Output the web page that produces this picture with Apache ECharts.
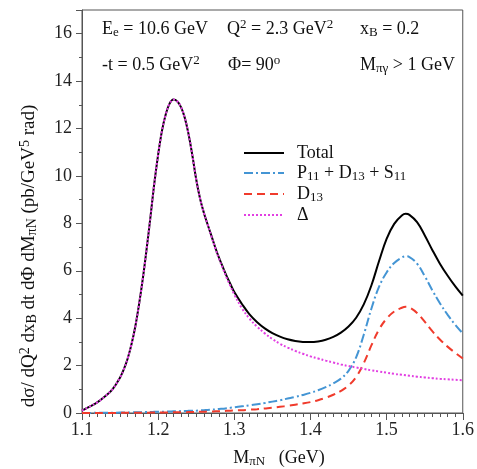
<!DOCTYPE html>
<html>
<head>
<meta charset="utf-8">
<script src="https://cdn.jsdelivr.net/npm/echarts@6/dist/echarts.min.js"></script>
<style>html,body{margin:0;padding:0;background:#fff}#c{width:477px;height:469px}</style>
</head>
<body>
<div id="c"></div>
<script>
const mass = [1.10,1.11,1.12,1.13,1.14,1.15,
  1.155,1.16,1.165,1.17,1.175,1.18,1.185,1.19,1.195,1.20,1.205,1.21,1.215,1.22,1.225,1.23,1.235,1.24,1.245,1.25,1.255,1.26,1.265,1.27,1.275,1.28,1.285,1.29,1.295,1.30,
  1.31,1.32,1.33,1.34,1.35,1.36,1.37,1.38,1.39,1.40,1.41,1.42,1.43,1.44,1.45,1.46,1.47,1.48,1.49,1.50,1.51,1.52,1.525,1.53,1.54,1.55,1.56,1.57,1.58,1.59,1.60];
const delta = [0.10,0.27,0.45,0.70,1.00,1.50,
  1.85,2.30,2.90,3.65,4.60,5.70,6.95,8.30,9.70,10.90,11.90,12.60,13.05,13.22,13.15,12.90,12.45,11.75,10.85,9.85,9.05,8.45,7.95,7.45,6.95,6.50,6.10,5.70,5.35,5.00,
  4.42,3.98,3.64,3.36,3.12,2.92,2.76,2.62,2.50,2.39,2.30,2.21,2.13,2.05,1.98,1.92,1.86,1.80,1.75,1.70,1.65,1.61,1.59,1.57,1.53,1.50,1.47,1.44,1.42,1.40,1.38];
const total = [0.10,0.27,0.45,0.70,1.00,1.50,
  1.85,2.30,2.90,3.65,4.60,5.70,6.95,8.30,9.70,10.90,11.90,12.60,13.05,13.22,13.15,12.90,12.45,11.75,10.85,9.85,9.05,8.45,7.95,7.47,6.98,6.54,6.15,5.77,5.43,5.10,
  4.60,4.16,3.83,3.57,3.37,3.22,3.11,3.04,3.00,2.99,3.02,3.09,3.21,3.39,3.65,4.02,4.58,5.38,6.40,7.35,7.98,8.33,8.40,8.36,8.05,7.50,6.88,6.30,5.80,5.35,4.95];
const p11d13s11 = [0.00,0.00,0.01,0.01,0.01,0.02,
  0.02,0.02,0.03,0.03,0.03,0.04,0.04,0.04,0.05,0.05,0.05,0.06,0.06,0.07,0.07,0.08,0.08,0.09,0.10,0.10,0.11,0.12,0.13,0.14,0.15,0.17,0.18,0.20,0.22,0.24,
  0.28,0.32,0.37,0.42,0.48,0.54,0.61,0.68,0.76,0.85,0.96,1.09,1.25,1.45,1.78,2.35,3.30,4.40,5.32,5.93,6.33,6.56,6.61,6.58,6.30,5.78,5.18,4.63,4.15,3.73,3.36];
const d13 = [0.00,0.00,0.00,0.00,0.00,0.01,
  0.01,0.01,0.01,0.01,0.01,0.01,0.01,0.02,0.02,0.02,0.02,0.02,0.02,0.03,0.03,0.03,0.03,0.04,0.04,0.04,0.05,0.05,0.06,0.06,0.07,0.07,0.08,0.09,0.10,0.11,
  0.12,0.14,0.16,0.19,0.22,0.26,0.30,0.35,0.40,0.46,0.54,0.64,0.77,0.93,1.16,1.52,2.10,2.85,3.52,3.98,4.28,4.44,4.48,4.45,4.22,3.85,3.45,3.10,2.80,2.54,2.30];
const xTicks = [1.1,1.2,1.3,1.4,1.5,1.6];
const yTicks = [0,2,4,6,8,10,12,14,16];

const pairs = arr => mass.map((m,i)=>[m,arr[i]]);
const serif = '"Liberation Serif","DejaVu Serif",serif';
function richFor(size){
  const s = Math.round(size*0.72);
  return {
    sub:{fontFamily:serif,fontSize:s,padding:[7,0,0,0],verticalAlign:'middle',fill:'#111',color:'#111'},
    sup:{fontFamily:serif,fontSize:s,padding:[0,0,8,0],verticalAlign:'middle',fill:'#111',color:'#111'},
    n:{fontFamily:serif,fontSize:size,verticalAlign:'middle',fill:'#111',color:'#111'}
  };
}
const richSS = richFor(18);
const legendNames = {
  'Total':'{n|Total}',
  'P11 + D13 + S11':'{n|P}{sub|11}{n| + D}{sub|13}{n| + S}{sub|11}',
  'D13':'{n|D}{sub|13}',
  'Δ':'{n|Δ}'
};
function txt(x,y,t,align){
  return {type:'text',x:x,y:y,style:{text:t,rich:richSS,fill:'#111',font:'18px '+serif,verticalAlign:'middle',align:align||'left'}};
}
const chart = echarts.init(document.getElementById('c'));
chart.setOption({
  animation:false,
  backgroundColor:'#fff',
  grid:{left:82,right:10,top:10,bottom:56,show:true,borderColor:'#555',borderWidth:1,backgroundColor:'transparent'},
  xAxis:{type:'value',min:1.1,max:1.6,interval:0.1,
    axisLine:{lineStyle:{color:'#555',width:1}},
    axisTick:{show:true,length:7,lineStyle:{color:'#555'}},
    minorTick:{show:true,splitNumber:10,length:4,lineStyle:{color:'#555'}},
    splitLine:{show:false},
    axisLabel:{fontFamily:serif,fontSize:18,color:'#222',margin:8,formatter:v=>{const t=xTicks.find(k=>Math.abs(k-v)<1e-6);return t===undefined?'':t.toFixed(1);}}
  },
  yAxis:{type:'value',min:0,max:17,interval:2,
    axisLine:{show:true,lineStyle:{color:'#555',width:1}},
    axisTick:{show:true,length:6,lineStyle:{color:'#555'}},
    minorTick:{show:true,splitNumber:2,length:3,lineStyle:{color:'#555'}},
    splitLine:{show:false},
    axisLabel:{fontFamily:serif,fontSize:18,color:'#222',margin:10,formatter:v=>yTicks.indexOf(Math.round(v))>=0&&Math.abs(v-Math.round(v))<1e-6?String(Math.round(v)):''}
  },
  legend:{orient:'vertical',left:243,top:144,padding:0,itemWidth:40,itemHeight:14,itemGap:2,
    data:['Total','P11 + D13 + S11','D13','Δ'],
    formatter:n=>legendNames[n],
    itemStyle:{opacity:0},
    textStyle:{fontFamily:serif,fontSize:18,color:'#111',rich:richSS,padding:[0,0,0,8]}
  },
  series:[
    {name:'Total',type:'line',data:pairs(total),showSymbol:false,symbol:'none',smooth:0.4,lineStyle:{color:'#000',width:2},itemStyle:{color:'#000'},z:2},
    {name:'P11 + D13 + S11',type:'line',data:pairs(p11d13s11),showSymbol:false,symbol:'none',smooth:0.4,lineStyle:{color:'#4495d4',width:2,type:[9,3,2,3]},itemStyle:{color:'#4495d4'},z:3},
    {name:'D13',type:'line',data:pairs(d13),showSymbol:false,symbol:'none',smooth:0.4,lineStyle:{color:'#f03b2c',width:2,type:[8,5]},itemStyle:{color:'#f03b2c'},z:4},
    {name:'Δ',type:'line',data:pairs(delta),showSymbol:false,symbol:'none',smooth:0.4,lineStyle:{color:'#e23fe2',width:2,type:[2,2]},itemStyle:{color:'#e23fe2'},z:5}
  ],
  graphic:[
    txt(102,29,'{n|E}{sub|e}{n| = 10.6 GeV}'),
    txt(227,29,'{n|Q}{sup|2}{n| = 2.3 GeV}{sup|2}'),
    txt(360,29,'{n|x}{sub|B}{n| = 0.2}'),
    txt(102,65,'{n|-t = 0.5 GeV}{sup|2}'),
    txt(228,65,'{n|Φ= 90}{sup|o}'),
    txt(360,65,'{n|M}{sub|πγ}{n| > 1 GeV}'),
    txt(279,458,'{n|M}{sub|πN}{n|   (GeV)}','center'),
    {type:'text',x:29,y:256,rotation:Math.PI/2,style:{text:'{n|dσ/ dQ}{sup|2}{n| dx}{sub|B}{n| dt dΦ dM}{sub|πN}{n| (pb/GeV}{sup|5}{n| rad)}',rich:richFor(19),fill:'#111',font:'19px '+serif,align:'center',verticalAlign:'middle'}}
  ]
});
</script>
</body>
</html>
